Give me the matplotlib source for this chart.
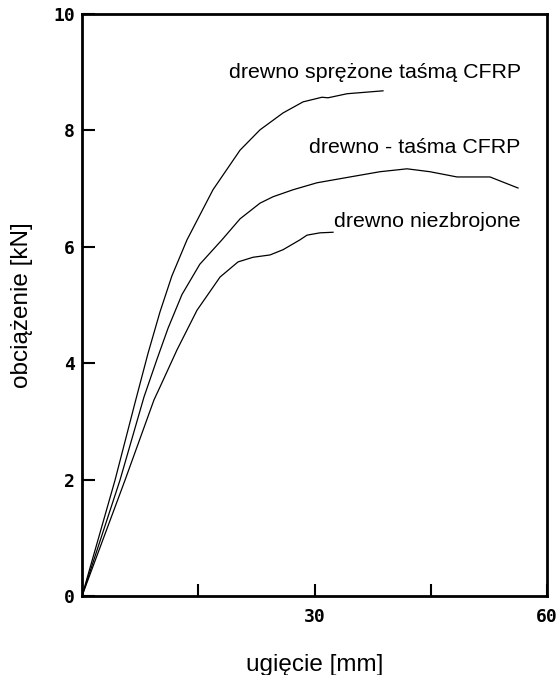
import matplotlib
matplotlib.use("Agg")
import matplotlib.pyplot as plt

# deflection [mm] / load [kN]
x_sprezone = [0, 4.26, 6.84, 8.52, 10.06, 11.6, 13.55, 16.9, 20.39, 22.97, 25.94,
              28.52, 30.97, 31.74, 34.2, 38.84]
y_sprezone = [0, 1.99, 3.32, 4.17, 4.88, 5.5, 6.12, 6.98, 7.66, 8.01, 8.30,
              8.49, 8.57, 8.56, 8.63, 8.68]

x_tasma = [0, 4.9, 8.0, 9.68, 11.1, 12.9, 15.2, 18.06, 20.39, 22.97, 24.65,
           27.23, 30.32, 34.58, 38.45, 41.94, 44.9, 48.39, 52.65, 56.26]
y_tasma = [0, 1.99, 3.42, 4.07, 4.6, 5.18, 5.7, 6.12, 6.48, 6.75, 6.86,
           6.98, 7.10, 7.20, 7.29, 7.34, 7.29, 7.20, 7.20, 7.01]

x_niezbr = [0, 5.55, 9.29, 10.06, 12.26, 14.84, 17.81, 20.13, 22.06, 24.26, 25.94,
            28.13, 29.03, 30.71, 32.39]
y_niezbr = [0, 1.99, 3.37, 3.59, 4.23, 4.91, 5.48, 5.74, 5.82, 5.86, 5.95,
            6.12, 6.20, 6.24, 6.25]

labels = ["drewno sprężone taśmą CFRP", "drewno - taśma CFRP", "drewno niezbrojone"]
label_y = [9.0, 7.70, 6.43]

x_ticks = [15, 30, 45, 60]
x_ticklabels = ["", "30", "", "60"]
y_ticks = [0, 2, 4, 6, 8, 10]
y_ticklabels = ["0", "2", "4", "6", "8", "10"]

fig = plt.figure(figsize=(5.6, 6.75), dpi=100)
ax = fig.add_axes([82 / 560, 1 - 596 / 675, (547 - 82) / 560, (596 - 14) / 675])

for xs, ys in [(x_sprezone, y_sprezone), (x_tasma, y_tasma), (x_niezbr, y_niezbr)]:
    ax.plot(xs, ys, color="black", lw=0.9)

for lab, ly in zip(labels, label_y):
    ax.text(56.6, ly, lab, ha="right", va="center", fontsize=15.4,
            family="Liberation Sans")

ax.set_xlim(0, 60)
ax.set_ylim(0, 10)
ax.set_xticks(x_ticks)
ax.set_xticklabels(x_ticklabels)
ax.set_yticks(y_ticks)
ax.set_yticklabels(y_ticklabels)
ax.tick_params(direction="in", length=9, width=1.5, labelsize=13, color="black")
ax.tick_params(axis="x", pad=9)
ax.tick_params(axis="y", pad=5)
for t in ax.get_xticklabels() + ax.get_yticklabels():
    t.set_family("DejaVu Sans Mono")
    t.set_fontweight("bold")
for s in ax.spines.values():
    s.set_linewidth(2.0)

fig.text(22 / 560, 1 - 305 / 675, "obciążenie [kN]", rotation=90, ha="center",
         va="center", fontsize=17.5, family="Liberation Sans")
fig.text(315 / 560, 1 - 665 / 675, "ugięcie [mm]", ha="center", va="center",
         fontsize=17.5, family="Liberation Sans")

fig.savefig("out.png", dpi=100)
